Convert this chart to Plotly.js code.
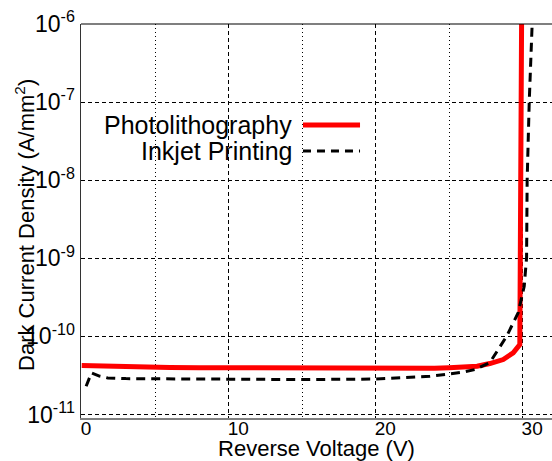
<!DOCTYPE html>
<html>
<head>
<meta charset="utf-8">
<script src="https://cdn.plot.ly/plotly-3.0.1.min.js"></script>
<style>
  html, body { margin: 0; padding: 0; background: #fff; }
  #chart { width: 552px; height: 461px; }
</style>
</head>
<body>
<div id="chart"></div>
<script>
// Photolithography series (reverse voltage V, dark current density A/mm^2)
var photoV = [0, 1, 2, 4, 6, 8, 10, 12, 14, 16, 18, 20, 22, 24, 25, 26, 26.9, 27.77, 28.68, 29.36, 29.81, 29.93];
var photoJ = [4.24e-11, 4.18e-11, 4.1e-11, 4.02e-11, 3.99e-11, 3.97e-11, 3.95e-11, 3.93e-11, 3.91e-11, 3.89e-11, 3.87e-11, 3.85e-11, 3.85e-11, 3.9e-11, 3.97e-11, 4.05e-11, 4.15e-11, 4.49e-11, 5.05e-11, 6.15e-11, 7.85e-11, 1e-6];

// Inkjet Printing series
var inkV = [0.3, 0.66, 1.2, 1.77, 3, 5, 10, 15, 20, 22, 23.7, 25, 26, 26.75, 27.77, 28.91, 29.7, 30.11, 30.27, 30.31, 30.45, 30.65];
var inkJ = [2.3e-11, 3.41e-11, 3.1e-11, 2.94e-11, 2.88e-11, 2.86e-11, 2.8e-11, 2.8e-11, 2.84e-11, 2.95e-11, 3.09e-11, 3.3e-11, 3.5e-11, 3.76e-11, 4.62e-11, 1.0e-10, 2.01e-10, 4.38e-10, 1.02e-9, 1e-8, 1e-7, 1e-6];

var seriesNames = ["Photolithography", "Inkjet Printing"];
var yTickVals = [1e-11, 1e-10, 1e-9, 1e-8, 1e-7, 1e-6];
var yTickText = ["10<sup>-11</sup>", "10<sup>-10</sup>", "10<sup>-9</sup>", "10<sup>-8</sup>", "10<sup>-7</sup>", "10<sup>-6</sup>"];
var xTitle = "Reverse Voltage (V)";
var yTitle = "Dark Current Density (A/mm<sup>2</sup>)";

var FONT = "Arial, 'Liberation Sans', sans-serif";

var traces = [
  {
    x: photoV, y: photoJ, name: seriesNames[0], type: "scatter", mode: "lines",
    line: { color: "#ff0000", width: 5 }, showlegend: false
  },
  {
    x: inkV, y: inkJ, name: seriesNames[1], type: "scatter", mode: "lines",
    line: { color: "#000000", width: 3, dash: "9px,6px" }, showlegend: false
  }
];

var layout = {
  width: 552, height: 461,
  margin: { l: 81, r: 0, t: 24, b: 43, pad: 0 },
  paper_bgcolor: "#ffffff", plot_bgcolor: "#ffffff",
  font: { family: FONT, color: "#000000" },
  showlegend: false,
  xaxis: {
    range: [-0.05, 32],
    tick0: 0, dtick: 10,
    showgrid: true, gridcolor: "#000000", gridwidth: 1, griddash: "4px,3px",
    minor: { tick0: 0, dtick: 5, showgrid: true, gridcolor: "#000000", gridwidth: 1, griddash: "1px,3px" },
    zeroline: false,
    showline: true, linecolor: "#808080", linewidth: 2,
    ticks: "",
    ticklabelposition: "outside right",
    ticklabelstandoff: -8,
    ticklabelshift: -2,
    tickfont: { size: 19, family: FONT, color: "#000" },
    title: { text: xTitle, font: { size: 22, family: FONT, color: "#000" }, standoff: 3 }
  },
  yaxis: {
    type: "log",
    range: [-11.045, -6],
    tickmode: "array", tickvals: yTickVals, ticktext: yTickText,
    showgrid: true, gridcolor: "#000000", gridwidth: 1, griddash: "4px,3px",
    zeroline: false,
    showline: true, linecolor: "#333333", linewidth: 1.5,
    ticks: "",
    tickfont: { size: 23, family: FONT, color: "#000" }
  },
  shapes: [
    { type: "line", xref: "paper", yref: "paper", x0: 0, x1: 1, y0: 1, y1: 1,
      line: { color: "#000000", width: 1.2 } },
    { type: "line", xref: "paper", yref: "paper", x0: 0.4713, x1: 0.5924, y0: 0.7437, y1: 0.7437,
      line: { color: "#ff0000", width: 5 } },
    { type: "line", xref: "paper", yref: "paper", x0: 0.4713, x1: 0.5924, y0: 0.6777, y1: 0.6777,
      line: { color: "#000000", width: 3, dash: "8px,6px" } }
  ],
  annotations: [
    { xref: "paper", yref: "paper", x: -0.1189, y: 0.49, xanchor: "center", yanchor: "middle",
      textangle: -90, text: yTitle, showarrow: false, font: { size: 22, family: FONT, color: "#000" } },
    { xref: "paper", yref: "paper", x: 0.452, y: 0.7437, xanchor: "right", yanchor: "middle",
      text: seriesNames[0], showarrow: false, font: { size: 25, family: FONT, color: "#000" } },
    { xref: "paper", yref: "paper", x: 0.452, y: 0.6777, xanchor: "right", yanchor: "middle",
      text: seriesNames[1], showarrow: false, font: { size: 25, family: FONT, color: "#000" } }
  ]
};

Plotly.newPlot("chart", traces, layout, { staticPlot: true, displayModeBar: false });
</script>
</body>
</html>
